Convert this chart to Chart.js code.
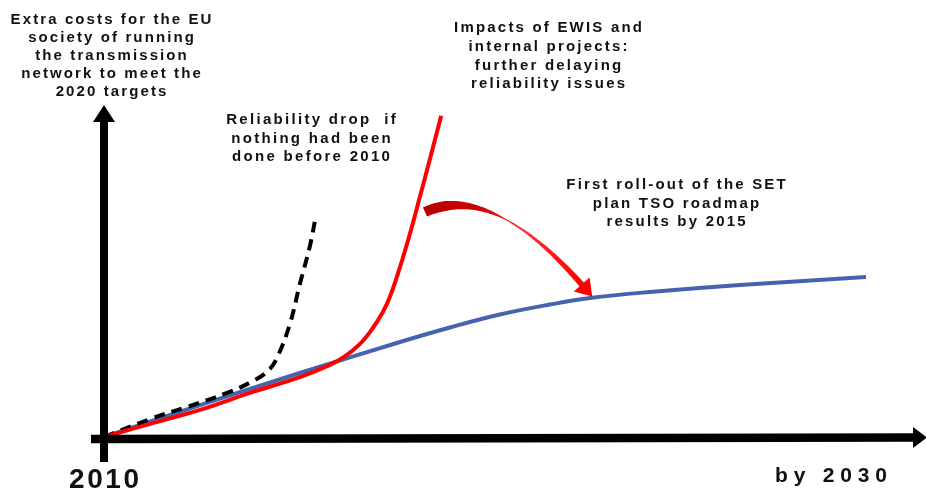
<!DOCTYPE html>
<html>
<head>
<meta charset="utf-8">
<script src="https://cdn.jsdelivr.net/npm/chart.js@4/dist/chart.umd.min.js"></script>
<style>
  html, body { margin: 0; padding: 0; background: #ffffff; }
  #wrap { width: 926px; height: 489px; position: relative; }
</style>
</head>
<body>
<div id="wrap"><canvas id="c"></canvas></div>
<script>
// ---- Data (years on x, relative extra cost index on y) ----
const blueX = [2010, 2012.52, 2015.14, 2017.77, 2019.08, 2020.39, 2021.71, 2022.76, 2024.33, 2026.69, 2030];
const blueY = [0, 7.3, 14.65, 21.74, 25.06, 28.03, 30.32, 31.81, 33.18, 34.78, 36.61];

const redX = [2010, 2011.21, 2012.52, 2013.83, 2015.14, 2015.93, 2016.33, 2016.72, 2017.03, 2017.32, 2017.51, 2017.77, 2018.03, 2018.29, 2018.56, 2018.85];
const redY = [0, 3.0, 6.2, 10.1, 13.7, 16.5, 18.5, 21.3, 24.6, 28.6, 32.2, 38.9, 46.5, 54.9, 63.8, 73.5];

const dashX = [2010, 2011.21, 2012.18, 2013.23, 2013.91, 2014.30, 2014.54, 2014.88, 2015.14, 2015.41, 2015.56];
const dashY = [0, 4.1, 6.9, 10.1, 12.8, 15.1, 18.1, 25.9, 35.0, 43.9, 50.6];

const startLabel = "2010";
const endLabel = "by 2030";
const yAxisTitle = ["Extra costs for the EU", "society of running", "the transmission", "network to meet the", "2020 targets"];
const noteDash = ["Reliability drop  if", "nothing had been", "done before 2010"];
const noteRed = ["Impacts of EWIS and", "internal projects:", "further delaying", "reliability issues"];
const noteBlue = ["First roll-out of the SET", "plan TSO roadmap", "results by 2015"];

function pts(xs, ys) { return xs.map((x, i) => ({ x: x, y: ys[i] })); }

const FONT = '"Liberation Sans", Arial, sans-serif';

const decor = {
  id: 'decor',
  afterDatasetsDraw(chart) {
    const ctx = chart.ctx;
    ctx.save();
    // ---- axes arrows ----
    ctx.fillStyle = '#000';
    ctx.strokeStyle = '#000';
    // y axis
    ctx.lineWidth = 8;
    ctx.beginPath();
    ctx.moveTo(104, 462);
    ctx.lineTo(104, 120);
    ctx.stroke();
    ctx.beginPath();
    ctx.moveTo(104, 105);
    ctx.lineTo(115, 122);
    ctx.lineTo(93, 122);
    ctx.closePath();
    ctx.fill();
    // x axis
    ctx.lineWidth = 8.5;
    ctx.beginPath();
    ctx.moveTo(91, 439);
    ctx.lineTo(915, 437.5);
    ctx.stroke();
    ctx.beginPath();
    ctx.moveTo(927, 437.5);
    ctx.lineTo(913, 427);
    ctx.lineTo(913, 448);
    ctx.closePath();
    ctx.fill();

    // ---- curved red arrow ----
    const P0 = [425, 212], P1 = [492, 182], P2 = [583, 286];
    const N = 60;
    const left = [], right = [];
    function w(t) {
      if (t < 0.15) return 10;
      if (t < 0.55) return 10 + (1 - 10) * ((t - 0.15) / 0.4);
      return 1 + (6 - 1) * ((t - 0.55) / 0.45);
    }
    for (let i = 0; i <= N; i++) {
      const t = i / N;
      const x = (1 - t) * (1 - t) * P0[0] + 2 * (1 - t) * t * P1[0] + t * t * P2[0];
      const y = (1 - t) * (1 - t) * P0[1] + 2 * (1 - t) * t * P1[1] + t * t * P2[1];
      const dx = 2 * (1 - t) * (P1[0] - P0[0]) + 2 * t * (P2[0] - P1[0]);
      const dy = 2 * (1 - t) * (P1[1] - P0[1]) + 2 * t * (P2[1] - P1[1]);
      const L = Math.hypot(dx, dy);
      const nx = -dy / L, ny = dx / L;
      const hw = w(t) / 2;
      left.push([x + nx * hw, y + ny * hw]);
      right.push([x - nx * hw, y - ny * hw]);
    }
    const grad = ctx.createLinearGradient(P0[0], P0[1], P2[0], P2[1]);
    grad.addColorStop(0, '#b80000');
    grad.addColorStop(0.25, '#cc0000');
    grad.addColorStop(0.55, '#ff3030');
    grad.addColorStop(1, '#ff0000');
    ctx.fillStyle = grad;
    ctx.beginPath();
    ctx.moveTo(left[0][0], left[0][1]);
    for (const p of left) ctx.lineTo(p[0], p[1]);
    for (let i = right.length - 1; i >= 0; i--) ctx.lineTo(right[i][0], right[i][1]);
    ctx.closePath();
    ctx.fill();
    // arrow head
    {
      const dx = P2[0] - P1[0], dy = P2[1] - P1[1];
      const L = Math.hypot(dx, dy);
      const ux = dx / L, uy = dy / L;
      const nx = -uy, ny = ux;
      const bx = P2[0] - ux * 2, by = P2[1] - uy * 2;
      ctx.fillStyle = '#ff0000';
      ctx.beginPath();
      ctx.moveTo(bx + ux * 16, by + uy * 16);
      ctx.lineTo(bx + nx * 10.5, by + ny * 10.5);
      ctx.lineTo(bx - nx * 10.5, by - ny * 10.5);
      ctx.closePath();
      ctx.fill();
    }

    // ---- texts ----
    ctx.fillStyle = '#111';
    ctx.textBaseline = 'middle';
    ctx.textAlign = 'center';
    function block(lines, cx, cy, step, size, ls) {
      ctx.font = 'bold ' + size + 'px ' + FONT;
      ctx.letterSpacing = ls + 'px';
      lines.forEach((s, i) => ctx.fillText(s, cx + ls / 2, cy + i * step));
    }
    block(yAxisTitle, 111, 20, 18, 15, 2.1);
    block(noteDash, 311, 120, 18.5, 15, 2.3);
    block(noteRed, 548, 28, 18.7, 15, 2.2);
    block(noteBlue, 676, 185, 18.5, 15, 2.2);

    ctx.textAlign = 'left';
    ctx.textBaseline = 'alphabetic';
    ctx.font = 'bold 28px ' + FONT;
    ctx.letterSpacing = '2.6px';
    ctx.fillText(startLabel, 69, 488);
    ctx.font = 'bold 21px ' + FONT;
    ctx.letterSpacing = '5.8px';
    ctx.fillText(endLabel, 775, 482);
    ctx.restore();
  }
};

new Chart(document.getElementById('c'), {
  type: 'line',
  data: {
    datasets: [
      { label: 'Impacts of EWIS', data: pts(redX, redY), borderColor: '#ff0000', borderWidth: 4, pointRadius: 0, tension: 0.4, fill: false },
      { label: 'Reliability drop', data: pts(dashX, dashY), borderColor: '#000000', borderWidth: 4, borderDash: [11, 7], pointRadius: 0, tension: 0.4, fill: false },
      { label: 'SET plan roadmap', data: pts(blueX, blueY), borderColor: '#4563ae', borderWidth: 4, pointRadius: 0, tension: 0.4, fill: false }
    ]
  },
  options: {
    responsive: true,
    maintainAspectRatio: false,
    animation: false,
    layout: { padding: { left: 104, right: 0, top: 0, bottom: 52 } },
    plugins: { legend: { display: false }, tooltip: { enabled: false } },
    scales: {
      x: { type: 'linear', min: 2010, max: 2031.575, display: false },
      y: { type: 'linear', min: 0, max: 100, display: false }
    }
  },
  plugins: [decor]
});
</script>
</body>
</html>
